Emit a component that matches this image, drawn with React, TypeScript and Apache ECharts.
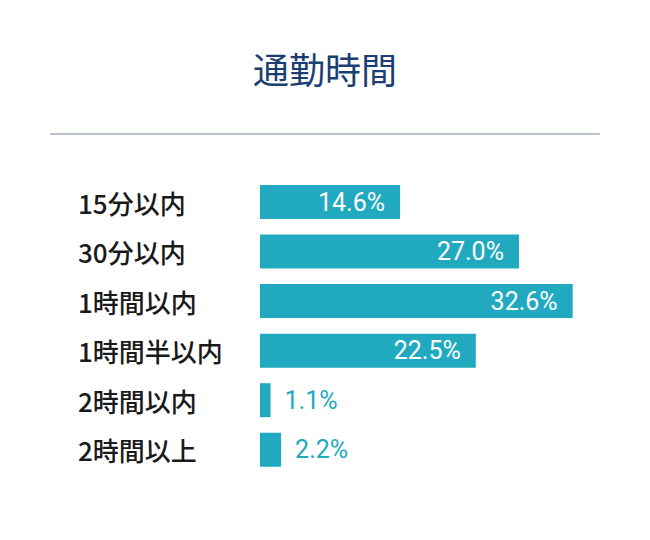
import React, { useEffect, useRef } from "react";
import * as echarts from "echarts";

const title = "通勤時間";
const categories = ["15分以内", "30分以内", "1時間以内", "1時間半以内", "2時間以内", "2時間以上"];
const values = [14.6, 27.0, 32.6, 22.5, 1.1, 2.2];
const insideThreshold = 5;

export default function App() {
  const ref = useRef<HTMLDivElement>(null);
  useEffect(() => {
    if (!ref.current) return;
    const chart = echarts.init(ref.current, null, { renderer: "svg" });
    const teal = "#21aabf";
    chart.setOption({
      animation: false,
      backgroundColor: "#ffffff",
      title: {
        text: title,
        left: "center",
        top: 45,
        textStyle: {
          fontFamily: "Noto Sans CJK JP",
          fontSize: 36,
          fontWeight: 400,
          color: "#1b3f73",
        },
      },
      graphic: [
        {
          type: "line",
          shape: { x1: 50, y1: 134, x2: 600, y2: 134 },
          style: { stroke: "#a3aebb", lineWidth: 1.5 },
        },
      ],
      grid: { left: 260, right: 50, top: 177.25, bottom: 65.5 },
      xAxis: {
        type: "value",
        min: 0,
        max: 35.45,
        show: false,
      },
      yAxis: {
        type: "category",
        data: categories,
        inverse: true,
        axisLine: { show: false },
        axisTick: { show: false },
        axisLabel: {
          align: "left",
          margin: 182,
          fontFamily: "Noto Sans CJK JP",
          fontSize: 26,
          fontWeight: 500,
          color: "#1a1a1a",
        },
      },
      series: [
        {
          type: "bar",
          barWidth: 34,
          data: values.map((v) => ({
            value: v,
            label: v >= insideThreshold
              ? { position: "insideRight", distance: 15, color: "#ffffff" }
              : { position: "right", distance: 14, color: teal },
          })),
          itemStyle: { color: teal },
          label: {
            show: true,
            fontFamily: "Roboto",
            fontSize: 25,
            fontWeight: 400,
            formatter: (p: any) => p.value.toFixed(1) + "%",
          },
        },
      ],
    });
    return () => chart.dispose();
  }, []);
  return (
    <div
      ref={ref}
      style={{ position: "absolute", left: 0, top: 0, width: 650, height: 540 }}
    />
  );
}
